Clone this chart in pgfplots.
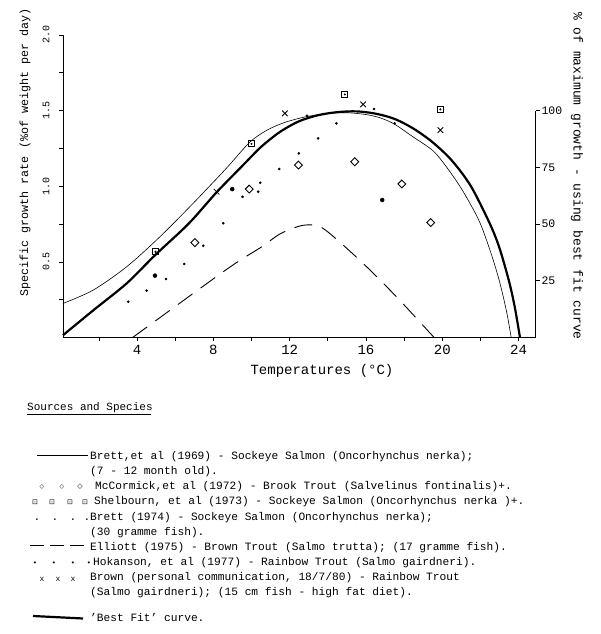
\documentclass[border=0pt]{standalone}
\usepackage{fontspec}
\setmainfont{Liberation Mono}
\newfontfamily\symf{DejaVu Sans}
\usepackage{pgfplots}
\pgfplotsset{compat=1.18}
\newcommand\fs[1]{\fontsize{#1}{#1}\selectfont}
\begin{document}
\begin{tikzpicture}
\path[use as bounding box] (0,0) rectangle (600pt,634pt);

\begin{axis}[
  at={(63pt,296.5pt)}, anchor=south west,
  scale only axis, width=472.8pt, height=302.5pt,
  xmin=0.12, xmax=24.9, ymin=0, ymax=2,
  axis x line*=bottom, axis y line*=left,
  axis line style={-, line width=0.8pt},
  every tick/.style={black, line width=0.7pt},
  tick align=outside, major tick length=4pt, minor tick length=4pt,
  xtick={4,8,12,16,20,24}, minor xtick={2,6,10,14,18,22},
  ytick={0.5,1.0,1.5,2.0}, minor ytick={0.25,0.75,1.25,1.75},
  /pgf/number format/assume math mode=true,
  xticklabel style={font=\fs{14}},
  yticklabel style={font=\fs{10}, rotate=90, anchor=south,
     /pgf/number format/fixed, /pgf/number format/fixed zerofill, /pgf/number format/precision=1},
  yticklabel shift=6pt,
  xlabel={Temperatures (°C)},
  ylabel={Specific growth rate (\%of weight per day)},
  xlabel style={at={(rel axis cs:0.5478,-0.1107)}, anchor=center, font=\fs{14}},
  ylabel style={at={(rel axis cs:-0.0804,0.6116)}, anchor=center, font=\fs{11.7}},
  clip=false,
]
% Brett et al (1969) thin curve
\addplot[black, line width=0.6pt, smooth] coordinates {
(0.12,0.225)(1.71,0.314)(3.46,0.468)(5.2,0.666)(6.94,0.887)(8.69,1.12)(9.9,1.29)
(10.8,1.37)(11.7,1.42)(12.8,1.458)(14.0,1.481)(15.0,1.486)(16.0,1.474)
(16.75,1.452)(17.5,1.41)(18.46,1.327)(19.51,1.235)(20.21,1.129)(21.07,0.97)
(21.95,0.765)(22.57,0.55)(23.0,0.369)(23.37,0.17)(23.61,0)};
% Best fit thick curve
\addplot[black, line width=2.2pt, smooth] coordinates {
(0.12,0.015)(1.71,0.18)(3.46,0.358)(4.95,0.545)(6.7,0.752)(8.17,0.96)(9.56,1.14)
(10.5,1.26)(11.5,1.36)(12.5,1.43)(13.5,1.47)(14.5,1.49)(15.5,1.495)(16.5,1.48)
(17.5,1.445)(18.5,1.38)(19.5,1.29)(20.5,1.17)(21.5,1.0)(22.5,0.75)(23.0,0.59)
(23.5,0.37)(23.8,0.2)(24.07,0)};
% Elliott (1975) dashed
\addplot[black, line width=0.9pt, smooth, dash pattern=on 18pt off 10pt] coordinates {
(3.77,0)(8.69,0.45)(10.54,0.6)(11.48,0.684)(12.47,0.735)(13.07,0.745)(13.57,0.735)
(14.27,0.67)(15.85,0.49)(17.59,0.27)(19.57,0)};
% McCormick (1972) diamonds
\addplot[only marks, mark=square, mark size=2.8pt, mark options={rotate=45, line width=0.9pt, fill=white}] coordinates {
(7.03,0.627)(9.88,0.981)(12.46,1.14)(15.41,1.162)(17.88,1.015)(19.39,0.76)};
% Shelbourn (1973) squares
\addplot[only marks, mark=square, mark size=3pt, mark options={line width=0.8pt}] coordinates {
(4.97,0.567)(10.0,1.28)(14.89,1.607)(19.9,1.508)};
\addplot[only marks, mark=*, mark size=0.8pt] coordinates {
(4.97,0.567)(10.0,1.28)(14.89,1.607)(19.9,1.508)};
% Brett (1974) small dots
\addplot[only marks, mark=*, mark size=1.1pt] coordinates {
(3.54,0.237)(4.5,0.31)(5.52,0.387)(6.47,0.486)(7.47,0.607)(8.52,0.755)(9.53,0.93)
(10.35,0.964)(10.46,1.023)(11.45,1.114)(12.48,1.217)(13.49,1.316)(14.45,1.416)
(12.91,1.466)(16.42,1.51)(17.5,1.416)};
% Hokanson (1977) big dots
\addplot[only marks, mark=*, mark size=2pt] coordinates {
(4.94,0.409)(8.99,0.981)(16.85,0.909)};
% Brown (1980) crosses
\addplot[only marks, mark=x, mark size=4pt, mark options={line width=0.8pt}] coordinates {
(8.17,0.964)(11.75,1.482)(15.85,1.541)(19.9,1.371)};
\end{axis}

\begin{axis}[
  at={(63pt,296.5pt)}, anchor=south west,
  scale only axis, width=472.8pt, height=226.8pt,
  xmin=0.12, xmax=24.9, ymin=0, ymax=100,
  axis x line=none, axis y line*=right,
  axis line style={-, line width=0.8pt},
  every tick/.style={black, line width=0.7pt},
  tick align=outside, major tick length=4pt,
  ytick={25,50,75,100},
  /pgf/number format/assume math mode=true,
  yticklabel style={font=\fs{11.5}, anchor=west, inner sep=1.5pt},
]
\end{axis}

\node[rotate=-90, inner sep=0, font=\fs{13}] at (577pt,458pt) {\% of maximum growth - using best fit curve};

% Sources and species
\node[anchor=base west, inner sep=0, font=\fs{11}] at (27pt,223pt) {Sources and Species};
\draw[line width=0.5pt] (27pt,219.5pt) -- (151pt,219.5pt);

\def\lf{\fs{11.2}}
\draw[line width=0.6pt] (37pt,179pt) -- (88pt,179pt);
\node[anchor=base west, inner sep=0, font=\lf] at (90pt,174pt) {Brett,et al (1969) - Sockeye Salmon (Oncorhynchus nerka);};
\node[anchor=base west, inner sep=0, font=\lf] at (90pt,159pt) {(7 - 12 month old).};

\node[inner sep=0, font=\symf\fs{6}] at (42pt,147.3pt) {◇};
\node[inner sep=0, font=\symf\fs{6}] at (62pt,147.3pt) {◇};
\node[inner sep=0, font=\symf\fs{7}] at (80pt,147.3pt) {◇};
\node[anchor=base west, inner sep=0, font=\lf] at (95pt,144pt) {McCormick,et al (1972) - Brook Trout (Salvelinus fontinalis)+.};

\node[inner sep=0, font=\symf\fs{7}] at (35pt,131.3pt) {⊡};
\node[inner sep=0, font=\symf\fs{7}] at (52pt,131.3pt) {⊡};
\node[inner sep=0, font=\symf\fs{7}] at (70pt,131.3pt) {⊡};
\node[inner sep=0, font=\symf\fs{7}] at (85pt,131.3pt) {⊡};
\node[anchor=base west, inner sep=0, font=\lf] at (94pt,129pt) {Shelbourn, et al (1973) - Sockeye Salmon (Oncorhynchus nerka )+.};

\node[anchor=base, inner sep=0, font=\lf] at (37pt,113.5pt) {.};
\node[anchor=base, inner sep=0, font=\lf] at (55pt,113.5pt) {.};
\node[anchor=base, inner sep=0, font=\lf] at (73pt,113.5pt) {.};
\node[anchor=base, inner sep=0, font=\lf] at (87pt,113.5pt) {.};
\node[anchor=base west, inner sep=0, font=\lf] at (90pt,113.5pt) {Brett (1974) - Sockeye Salmon (Oncorhynchus nerka);};
\node[anchor=base west, inner sep=0, font=\lf] at (90pt,98.5pt) {(30 gramme fish).};

\draw[line width=0.7pt, dash pattern=on 14pt off 6pt] (30pt,89pt) -- (88pt,89pt);
\node[anchor=base west, inner sep=0, font=\lf] at (90pt,83.5pt) {Elliott (1975) - Brown Trout (Salmo trutta); (17 gramme fish).};

\node[inner sep=0, font=\symf\fs{7}] at (35pt,70pt) {•};
\node[inner sep=0, font=\symf\fs{7}] at (54pt,70pt) {•};
\node[inner sep=0, font=\symf\fs{7}] at (73pt,70pt) {•};
\node[inner sep=0, font=\symf\fs{7}] at (89pt,70pt) {•};
\node[anchor=base west, inner sep=0, font=\lf] at (93pt,68.3pt) {Hokanson, et al (1977) - Rainbow Trout (Salmo gairdneri).};

\node[inner sep=0, font=\fs{8}] at (42pt,55pt) {x};
\node[inner sep=0, font=\fs{8}] at (58pt,55pt) {x};
\node[inner sep=0, font=\fs{8}] at (73pt,55pt) {x};
\node[anchor=base west, inner sep=0, font=\lf] at (90pt,53.2pt) {Brown (personal communication, 18/7/80) - Rainbow Trout};
\node[anchor=base west, inner sep=0, font=\lf] at (90pt,38pt) {(Salmo gairdneri); (15 cm fish - high fat diet).};

\draw[line width=2.2pt] (33pt,18pt) -- (83pt,15.5pt);
\node[anchor=base west, inner sep=0, font=\lf] at (90pt,12.5pt) {'Best Fit' curve.};
\end{tikzpicture}
\end{document}
